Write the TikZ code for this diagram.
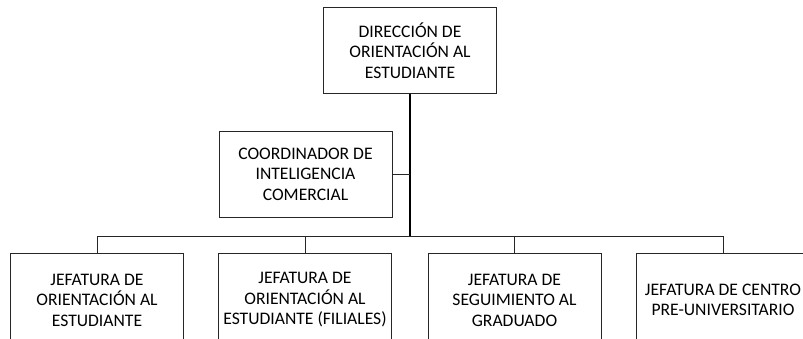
\documentclass[tikz,border=0pt]{standalone}
\usepackage{fontspec}
\setmainfont{Carlito}
\begin{document}
\begin{tikzpicture}[x=1pt,y=-1pt,
  orgbox/.style={draw=black!85,line width=0.8pt,rectangle,minimum width=173pt,minimum height=86pt,align=center,inner sep=0pt,font=\fontsize{17.6}{20.5}\selectfont},
  lowbox/.style={orgbox,minimum height=94pt},
  thinline/.style={draw=black!85,line width=0.8pt},
  thickline/.style={draw=black,line width=1.8pt}]
\useasboundingbox (0,0) rectangle (803,339);
\node[orgbox] (top) at (410,50.5) {DIRECCIÓN DE\\ORIENTACIÓN AL\\ESTUDIANTE};
\node[orgbox] (coord) at (305.5,174) {COORDINADOR DE\\INTELIGENCIA\\COMERCIAL};
\node[lowbox] (b1) at (97,300) {JEFATURA DE\\ORIENTACIÓN AL\\ESTUDIANTE};
\node[lowbox] (b2) at (305,300) {JEFATURA DE\\ORIENTACIÓN AL\\ESTUDIANTE (FILIALES)};
\node[lowbox] (b3) at (514.5,300) {JEFATURA DE\\SEGUIMIENTO AL\\GRADUADO};
\node[lowbox] (b4) at (723,300) {JEFATURA DE CENTRO\\PRE-UNIVERSITARIO};
\coordinate (bus) at (410,236);
\draw[thickline] (top.south) -- (bus);
\draw[thinline] (coord.east) -- (coord.east -| top.south);
\draw[thinline] (b1.north |- bus) -- (b4.north |- bus);
\foreach \b in {b1,b2,b3,b4} \draw[thinline] (\b.north |- bus) -- (\b.north);
\end{tikzpicture}
\end{document}
